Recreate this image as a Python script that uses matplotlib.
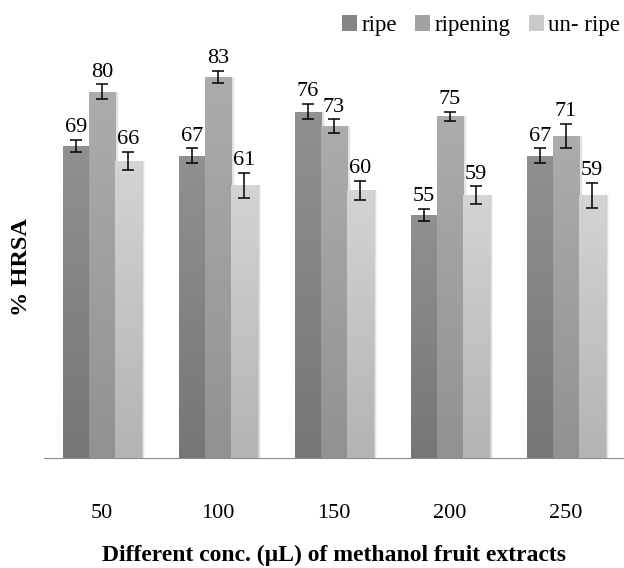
import numpy as np
import matplotlib
matplotlib.use("Agg")
from matplotlib import pyplot as plt
from matplotlib.patches import Patch

plt.rcParams['font.family'] = ['Liberation Serif', 'DejaVu Serif']

conc = ['50', '100', '150', '200', '250']
series = ['ripe', 'ripening', 'un- ripe']
ripe = [69, 67, 76, 55, 67]
ripening = [80, 83, 73, 75, 71]
unripe = [66, 61, 60, 59, 59]
ripe_err = [1.2, 1.5, 1.5, 1.3, 1.5]
ripening_err = [1.5, 1.3, 1.4, 1.0, 2.5]
unripe_err = [1.8, 2.5, 2.0, 1.8, 2.5]

values = [ripe, ripening, unripe]
errors = [ripe_err, ripening_err, unripe_err]
# top / bottom shades of each bar gradient
shades = [('#909090', '#767676'), ('#acacac', '#929292'), ('#d4d4d4', '#b3b3b3')]
legend_cols = ['#858585', '#a2a2a2', '#cacaca']

YMIN, YMAX = 5.7, 97


def gradient_bar(ax, x, h, w, top, bottom):
    # soft shadow on the right side
    for k, a in enumerate([0.10, 0.07, 0.04]):
        ax.bar(x + 0.012 * (k + 1), h - YMIN, w, bottom=YMIN, color='black',
               alpha=a, linewidth=0, zorder=1)
    bar = ax.bar(x, h - YMIN, w, bottom=YMIN, color=bottom, linewidth=0, zorder=2)[0]
    c1 = np.array(matplotlib.colors.to_rgb(top))
    c2 = np.array(matplotlib.colors.to_rgb(bottom))
    t = np.linspace(0, 1, 64)[:, None]
    img = (c1 * (1 - t) + c2 * t)[:, None, :]
    im = ax.imshow(img, extent=(x - w / 2, x + w / 2, YMIN, h), aspect='auto',
                   origin='upper', zorder=3)
    im.set_clip_path(bar)


fig = plt.figure(figsize=(6.24, 5.68), dpi=100)
ax = fig.add_axes([44 / 624, 110 / 568, 580 / 624, 450 / 568])

x = np.arange(len(conc))
w = 0.225
for i in range(3):
    for j in range(len(conc)):
        xi = x[j] + (i - 1) * w
        gradient_bar(ax, xi, values[i][j], w, *shades[i])
        ax.errorbar(xi, values[i][j], yerr=errors[i][j], fmt='none',
                    ecolor='black', elinewidth=1.1, capsize=4.5, capthick=1.1,
                    zorder=4)
        ax.annotate(str(values[i][j]), (xi, values[i][j] + errors[i][j]),
                    xytext=(0, 2), textcoords='offset points',
                    ha='center', va='bottom', fontsize=16, zorder=5)

ax.set_xlim(-0.5, len(conc) - 0.5)
ax.set_ylim(YMIN, YMAX)
ax.set_xticks(x)
ax.set_xticklabels(conc, fontsize=16)
ax.tick_params(axis='x', length=0, pad=33)
ax.set_yticks([])
for s in ['top', 'right', 'left']:
    ax.spines[s].set_visible(False)
ax.spines['bottom'].set_color('#8c8c8c')
ax.set_xlabel('Different conc. (µL) of methanol fruit extracts', fontsize=17,
              fontweight='bold', labelpad=16)
ax.set_ylabel('% HRSA', fontsize=17.5, fontweight='bold')
ax.yaxis.set_label_coords(-0.021, 0.424)

handles = [Patch(facecolor=legend_cols[i], edgecolor='none') for i in range(3)]
fig.legend(handles, series, loc='upper right', bbox_to_anchor=(1.027, 1.01),
           ncol=3, frameon=False, fontsize=16.5, handlelength=0.65,
           handleheight=0.65, handletextpad=0.2, columnspacing=0.8)

fig.savefig('out.png', dpi=100)
